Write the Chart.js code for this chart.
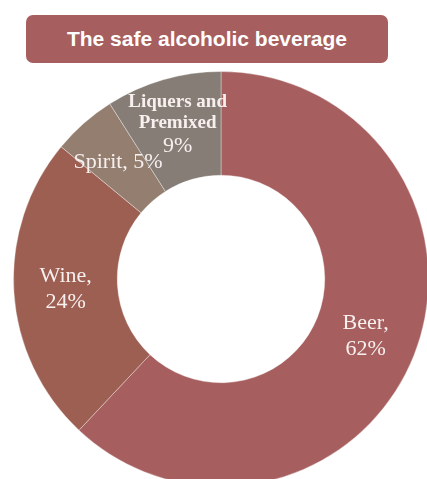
<!DOCTYPE html>
<html>
<head>
<meta charset="utf-8">
<script src="https://cdn.jsdelivr.net/npm/chart.js@4.4.1/dist/chart.umd.min.js"></script>
<style>
  html, body { margin: 0; padding: 0; width: 427px; height: 479px; overflow: hidden; background: #ffffff; }
  #title {
    position: absolute; left: 26px; top: 15px; width: 362px; height: 48px;
    background: #A65E5E; border-radius: 7px; color: #ffffff;
    font: bold 21px "Liberation Sans", Arial, sans-serif;
    display: flex; align-items: center; justify-content: center;
  }
  #wrap { position: absolute; left: 13px; top: 71px; width: 416px; height: 416px; }
</style>
</head>
<body>
<div id="title">The safe alcoholic beverage</div>
<div id="wrap"><canvas id="c" width="416" height="416"></canvas></div>
<script>
const categories = ['Beer', 'Wine', 'Spirit', 'Liquers and Premixed'];
const values = [62, 24, 5, 9];
const colors = ['#A65E5E', '#9D5F52', '#937E6F', '#867E76'];

// label text built from categories and values
const labelLines = [
  [{ t: categories[0] + ',', bold: false }, { t: values[0] + '%', bold: false }],
  [{ t: categories[1] + ',', bold: false }, { t: values[1] + '%', bold: false }],
  [{ t: categories[2] + ', ' + values[2] + '%', bold: false }],
  [{ t: 'Liquers and', bold: true }, { t: 'Premixed', bold: true }, { t: values[3] + '%', bold: false }]
];

const labelPlugin = {
  id: 'sliceLabels',
  afterDatasetsDraw(chart) {
    const ctx = chart.ctx;
    const meta = chart.getDatasetMeta(0);
    meta.data.forEach((arc, i) => {
      const p = arc.tooltipPosition();
      const lines = labelLines[i];
      const heights = lines.map(l => l.bold ? 21 : 26);
      const total = heights.reduce((a, b) => a + b, 0);
      let y = p.y - total / 2 + (i === 3 ? -4 : 0);
      ctx.save();
      ctx.fillStyle = '#f7f0ef';
      ctx.textAlign = 'center';
      ctx.textBaseline = 'middle';
      lines.forEach((l, k) => {
        ctx.font = l.bold ? 'bold 19px "Liberation Serif", serif' : '22px "Liberation Serif", serif';
        ctx.fillText(l.t, p.x, y + heights[k] / 2);
        y += heights[k];
      });
      ctx.restore();
    });
  }
};

new Chart(document.getElementById('c'), {
  type: 'doughnut',
  data: {
    labels: categories,
    datasets: [{
      data: values,
      backgroundColor: colors,
      borderColor: 'rgba(255,255,255,0.35)',
      borderWidth: 1,
      hoverOffset: 0,
      offset: 0
    }]
  },
  options: {
    responsive: false,
    animation: false,
    cutout: '50%',
    layout: { padding: 0 },
    plugins: { legend: { display: false }, tooltip: { enabled: false }, title: { display: false } }
  },
  plugins: [labelPlugin]
});
</script>
</body>
</html>
